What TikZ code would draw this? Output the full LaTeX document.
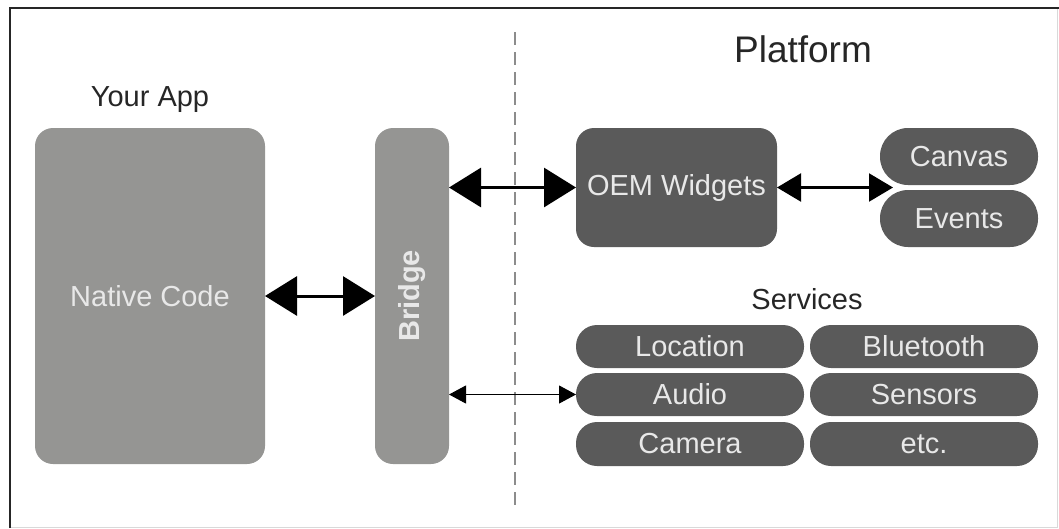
\documentclass[tikz,border=0pt]{standalone}
\usepackage{fontspec}
\setmainfont{Liberation Sans}
\usetikzlibrary{arrows.meta}
\definecolor{lightbox}{HTML}{959593}
\definecolor{darkbox}{HTML}{5A5A5A}
\definecolor{boxtext}{HTML}{E8E8E8}
\definecolor{dashgray}{HTML}{8C8C8C}
\tikzset{
  basebox/.style={inner sep=0pt, outer sep=0pt, text=boxtext, font=\fontsize{29}{31}\selectfont},
  appbox/.style={basebox, fill=lightbox, rounded corners=18pt},
  oembox/.style={basebox, fill=darkbox, rounded corners=18pt},
  pill/.style={basebox, fill=darkbox, rounded corners=21pt, minimum width=228pt, minimum height=43pt},
  tallpill/.style={basebox, fill=darkbox, rounded corners=28pt, minimum width=158pt, minimum height=57pt},
  label/.style={inner sep=0pt, text=black!85, font=\fontsize{29}{31}\selectfont},
  bigarrow/.style={line width=3pt, {Triangle[length=32pt,width=39pt]}-{Triangle[length=32pt,width=39pt]}},
  midarrow/.style={line width=2.2pt, {Triangle[length=24pt,width=28pt]}-{Triangle[length=24pt,width=28pt]}},
  smallarrow/.style={line width=1pt, {Triangle[length=17pt,width=18pt]}-{Triangle[length=17pt,width=18pt]}}
}
\begin{document}
\begin{tikzpicture}[x=1pt,y=-1pt]
\useasboundingbox (0,0) rectangle (1059,528);
% frame
\draw[black!15, line width=1pt] (1057,8) -- (1057,527) -- (10,527);
\draw[black!85, line width=2.5pt] (10,528) -- (10,8) -- (1059,8);
% dashed separator
\draw[dashgray, line width=1.3pt, dash pattern=on 13pt off 7pt] (515,32) -- (515,507);
% titles
\node[label] (yourapp) at (150,100) {Your App};
\node[label, font=\fontsize{37}{40}\selectfont] (platform) at (803,49) {Platform};
\node[label] (services) at (807,299) {Services};
% left boxes
\node[appbox, minimum width=230pt, minimum height=336pt] (native) at (150,296) {Native Code};
\node[appbox, minimum width=74pt, minimum height=336pt] (bridge) at (412,296) {};
\node[text=boxtext, font=\fontsize{29}{31}\selectfont\bfseries, rotate=90, inner sep=0pt] (bridgetext) at (bridge.center) {Bridge};
% platform boxes
\node[oembox, minimum width=201pt, minimum height=119pt] (oem) at (676.5,187.5) {OEM Widgets};
\node[tallpill] (canvas) at (959,156.5) {Canvas};
\node[tallpill] (events) at (959,218.5) {Events};
\coordinate (ce) at (893,187.5);
% services
\node[pill] (location) at (690,346.5) {Location};
\node[pill] (bluetooth) at (924,346.5) {Bluetooth};
\node[pill] (audio) at (690,394.5) {Audio};
\node[pill] (sensors) at (924,394.5) {Sensors};
\node[pill, minimum height=44pt] (camera) at (690,444) {Camera};
\node[pill, minimum height=44pt] (etc) at (924,444) {etc.};
% arrows
\draw[bigarrow] (native.east) -- (bridge.west);
\draw[bigarrow] (bridge.east |- oem.west) -- (oem.west);
\draw[midarrow] (oem.east) -- (ce);
\draw[smallarrow] (bridge.east |- audio.west) -- (audio.west);
\end{tikzpicture}
\end{document}
